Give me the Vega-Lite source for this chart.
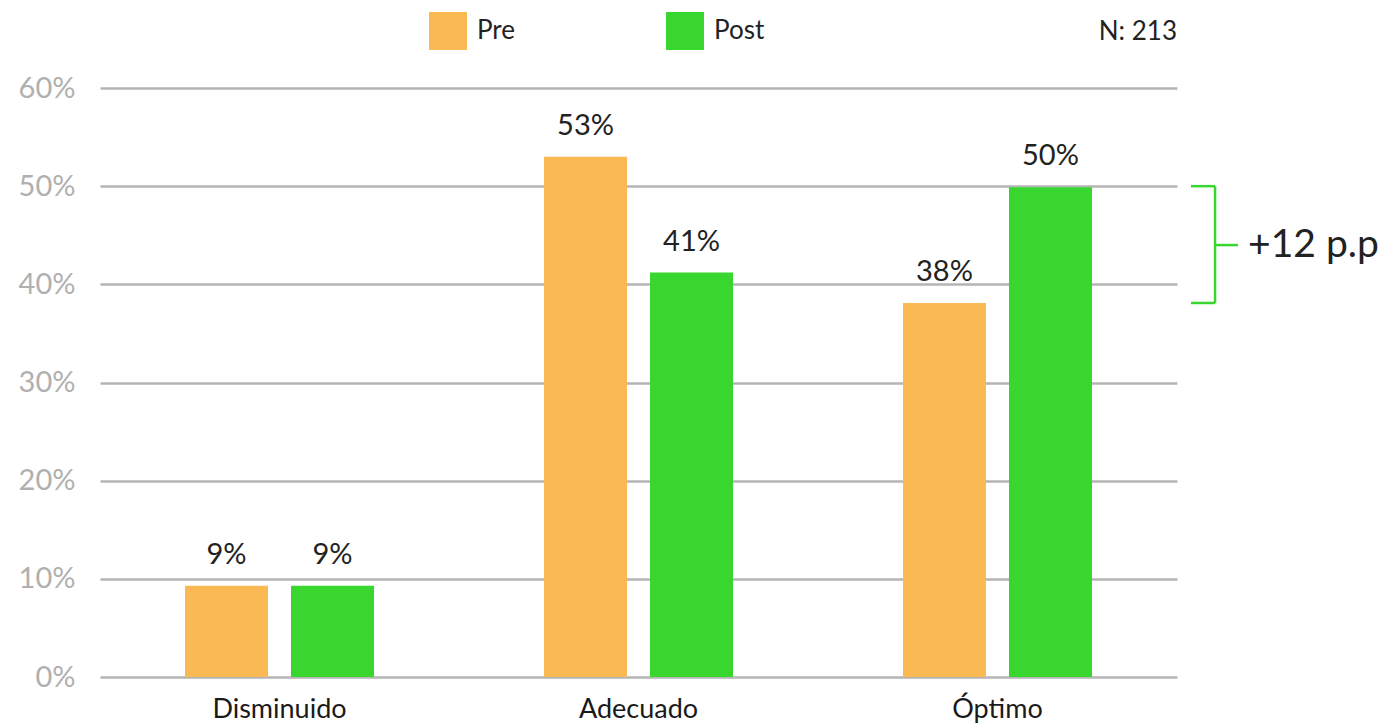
{
  "$schema": "https://vega.github.io/schema/vega-lite/v6.json",
  "autosize": "none",
  "width": 1077,
  "height": 589,
  "padding": {"left": 100, "top": 88, "right": 222, "bottom": 48},
  "background": "white",
  "title": {
    "text": "N: 213",
    "anchor": "end",
    "frame": "group",
    "orient": "top",
    "fontSize": 26,
    "fontWeight": "normal",
    "font": "Lato",
    "color": "#222222",
    "offset": -33
  },
  "config": {
    "font": "Lato",
    "view": {"stroke": null}
  },
  "datasets": {
    "barras": [
      {"nivel": "Disminuido", "momento": "Pre", "valor": 0.093},
      {"nivel": "Disminuido", "momento": "Post", "valor": 0.093},
      {"nivel": "Adecuado", "momento": "Pre", "valor": 0.53},
      {"nivel": "Adecuado", "momento": "Post", "valor": 0.412},
      {"nivel": "Óptimo", "momento": "Pre", "valor": 0.381},
      {"nivel": "Óptimo", "momento": "Post", "valor": 0.499}
    ],
    "brecha": [
      {"desde": 0.381, "hasta": 0.5, "medio": 0.44, "texto": "+12 p.p"}
    ]
  },
  "resolve": {"scale": {"x": "independent"}},
  "layer": [
    {
      "data": {"name": "barras"},
      "encoding": {
        "x": {
          "field": "nivel",
          "type": "nominal",
          "sort": ["Disminuido", "Adecuado", "Óptimo"],
          "scale": {"paddingInner": 0.4735, "paddingOuter": 0.2368},
          "axis": {
            "title": null,
            "labelAngle": 0,
            "labelFontSize": 27,
            "labelColor": "#1a1a1a",
            "labelPadding": 19,
            "domain": false,
            "ticks": false,
            "grid": false
          }
        },
        "xOffset": {
          "field": "momento",
          "type": "nominal",
          "sort": ["Pre", "Post"],
          "scale": {"paddingInner": 0.217, "paddingOuter": 0}
        },
        "y": {
          "field": "valor",
          "type": "quantitative",
          "scale": {"domain": [0, 0.6], "nice": false},
          "axis": {
            "title": null,
            "values": [0, 0.1, 0.2, 0.3, 0.4, 0.5, 0.6],
            "format": ".0%",
            "labelFontSize": 29,
            "labelColor": "#b0b0b0",
            "labelPadding": 25,
            "domain": false,
            "ticks": false,
            "gridColor": "#b5b5b5",
            "gridWidth": 2.5,
            "gridOpacity": 1
          }
        }
      },
      "layer": [
        {
          "mark": {"type": "bar"},
          "encoding": {
            "color": {
              "field": "momento",
              "type": "nominal",
              "scale": {"domain": ["Pre", "Post"], "range": ["#FBB954", "#39D630"]},
              "legend": {
                "title": null,
                "orient": "none",
                "legendX": 329,
                "legendY": -76,
                "direction": "horizontal",
                "symbolType": "square",
                "symbolSize": 1444,
                "symbolStrokeWidth": 0,
                "symbolOpacity": 1,
                "labelFontSize": 26,
                "labelColor": "#222222",
                "labelOffset": 10,
                "columnPadding": 150
              }
            }
          }
        },
        {
          "mark": {"type": "text", "baseline": "alphabetic", "dy": -22, "fontSize": 29, "color": "#222222"},
          "encoding": {
            "text": {"field": "valor", "type": "quantitative", "format": ".0%"}
          }
        }
      ]
    },
    {
      "data": {"name": "brecha"},
      "layer": [
        {
          "mark": {"type": "rule", "color": "#39D630", "strokeWidth": 2.5},
          "encoding": {
            "x": {"datum": 3.106, "type": "quantitative", "scale": {"domain": [0, 3], "nice": false, "zero": false}, "axis": null},
            "y": {"field": "desde", "type": "quantitative"},
            "y2": {"field": "hasta"}
          }
        },
        {
          "mark": {"type": "rule", "color": "#39D630", "strokeWidth": 2.5},
          "encoding": {
            "x": {"datum": 3.039, "type": "quantitative", "scale": {"domain": [0, 3], "nice": false, "zero": false}, "axis": null},
            "x2": {"datum": 3.106},
            "y": {"field": "desde", "type": "quantitative"}
          }
        },
        {
          "mark": {"type": "rule", "color": "#39D630", "strokeWidth": 2.5},
          "encoding": {
            "x": {"datum": 3.039, "type": "quantitative", "scale": {"domain": [0, 3], "nice": false, "zero": false}, "axis": null},
            "x2": {"datum": 3.106},
            "y": {"field": "hasta", "type": "quantitative"}
          }
        },
        {
          "mark": {"type": "rule", "color": "#39D630", "strokeWidth": 2.5},
          "encoding": {
            "x": {"datum": 3.106, "type": "quantitative", "scale": {"domain": [0, 3], "nice": false, "zero": false}, "axis": null},
            "x2": {"datum": 3.17},
            "y": {"field": "medio", "type": "quantitative"}
          }
        },
        {
          "mark": {"type": "text", "align": "left", "baseline": "middle", "fontSize": 39, "color": "#222222"},
          "encoding": {
            "x": {"datum": 3.198, "type": "quantitative", "scale": {"domain": [0, 3], "nice": false, "zero": false}, "axis": null},
            "y": {"field": "medio", "type": "quantitative"},
            "text": {"field": "texto"}
          }
        }
      ]
    }
  ]
}
